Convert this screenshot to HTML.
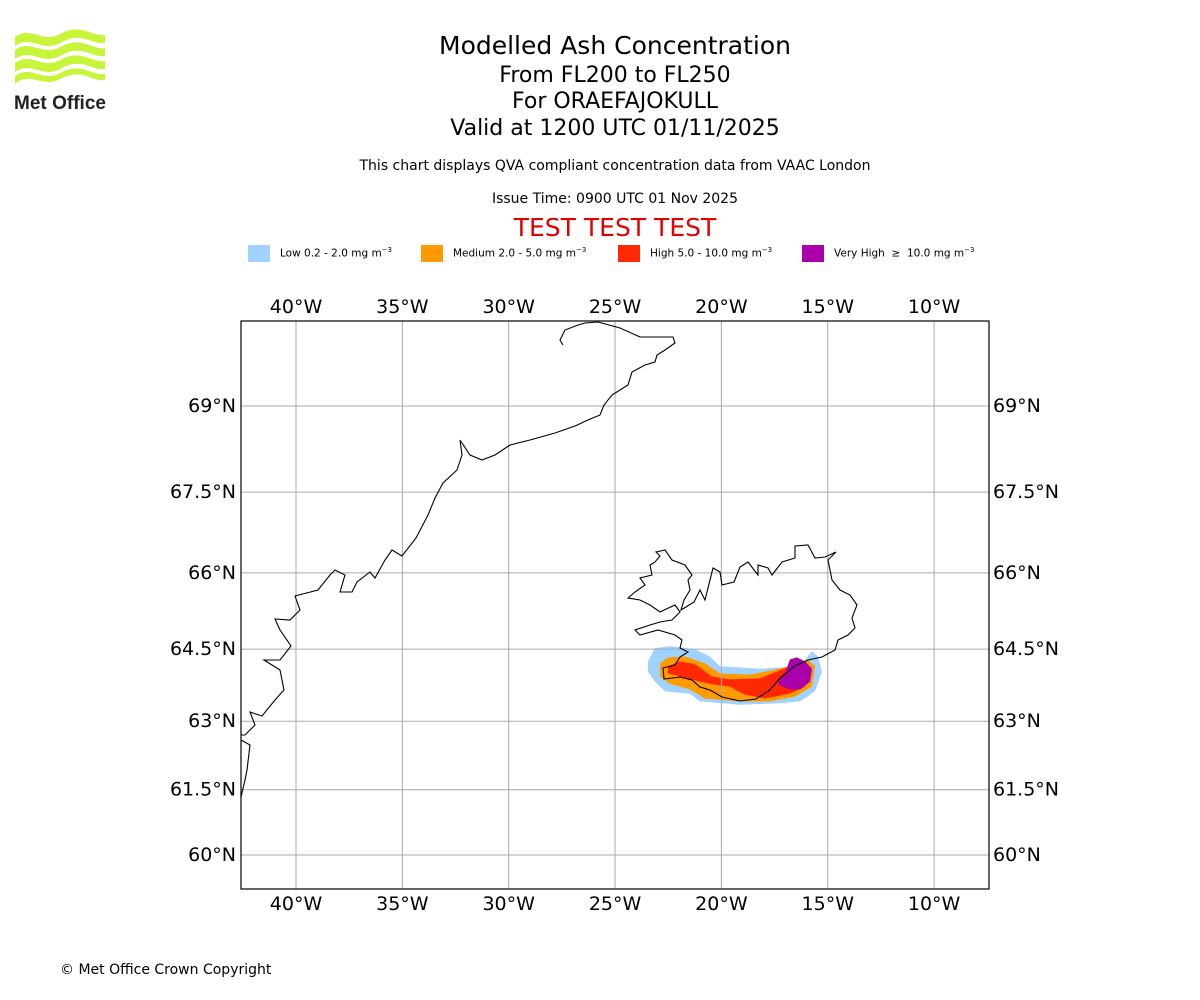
<!DOCTYPE html>
<html><head><meta charset="utf-8">
<style>
body{margin:0;background:#fff;}
#root{position:relative;width:1200px;height:1000px;font-family:"DejaVu Sans","Liberation Sans",sans-serif;color:#000;}
.t{position:absolute;left:15px;width:1200px;text-align:center;white-space:nowrap;}
</style></head><body>
<div id="root">
<svg style="position:absolute;left:12px;top:28px" width="100" height="86" viewBox="0 0 100 86">
<g fill="#c8f53a">
<path d="M3 9 C20 -3,30 17,50 5 C70 -5,80 9,93 7 L93 15 C80 17,70 3,50 14 C30 26,20 6,3 18Z"/>
<path d="M3 22 C20 10,30 30,50 18 C70 8,80 22,93 20 L93 28 C80 30,70 16,50 27 C30 39,20 19,3 31Z"/>
<path d="M3 35 C20 23,30 43,50 31 C70 21,80 35,93 33 L93 41 C80 43,70 29,50 40 C30 52,20 32,3 44Z"/>
<path d="M3 48 C20 36,30 56,50 44 C70 34,80 48,93 46 L93 52 C80 54,70 40,50 50 C30 62,20 42,3 56Z"/>
</g>
<text x="2" y="81" font-family="Liberation Sans,sans-serif" font-weight="bold" font-size="19" fill="#222" textLength="92">Met Office</text>
</svg>
<div class="t" style="top:31px;font-size:25px">Modelled Ash Concentration</div>
<div class="t" style="top:63px;font-size:22px">From FL200 to FL250</div>
<div class="t" style="top:89px;font-size:22px">For ORAEFAJOKULL</div>
<div class="t" style="top:116px;font-size:22px">Valid at 1200 UTC 01/11/2025</div>
<div class="t" style="top:158px;font-size:14px">This chart displays QVA compliant concentration data from VAAC London</div>
<div class="t" style="top:191px;font-size:14px">Issue Time: 0900 UTC 01 Nov 2025</div>
<div class="t" style="top:213px;font-size:25px;color:#e00000">TEST TEST TEST</div>
<div style="position:absolute;top:244px;left:0;width:1200px;height:20px;font-size:10.5px">
 <div><div style="position:absolute;left:248px;top:1px;width:22px;height:17px;background:#a0d2ff"></div><span style="position:absolute;left:280px;top:2px">Low 0.2 - 2.0 mg m<sup style="font-size:7px">−3</sup></span></div>
 <div><div style="position:absolute;left:421px;top:1px;width:22px;height:17px;background:#ff9a00"></div><span style="position:absolute;left:453px;top:2px">Medium 2.0 - 5.0 mg m<sup style="font-size:7px">−3</sup></span></div>
 <div><div style="position:absolute;left:618px;top:1px;width:22px;height:17px;background:#ff2800"></div><span style="position:absolute;left:650px;top:2px">High 5.0 - 10.0 mg m<sup style="font-size:7px">−3</sup></span></div>
 <div><div style="position:absolute;left:802px;top:1px;width:22px;height:17px;background:#aa00aa"></div><span style="position:absolute;left:834px;top:2px">Very High &nbsp;≥ &nbsp;10.0 mg m<sup style="font-size:7px">−3</sup></span></div>
</div>
<svg id="map" style="position:absolute;left:0;top:0" width="1200" height="1000"></svg>
<div style="position:absolute;left:60px;top:962px;font-size:14px">© Met Office Crown Copyright</div>
</div>
<script>
const lonTicks=[-40,-35,-30,-25,-20,-15,-10];
const latTicks=[60,61.5,63,64.5,66,67.5,69];
const lonTickLabels=["40°W","35°W","30°W","25°W","20°W","15°W","10°W"];
const latTickLabels=["60°N","61.5°N","63°N","64.5°N","66°N","67.5°N","69°N"];
const lowLon=[-23.45,-23.12,-22.42,-21.24,-20.54,-20.07,-18.19,-16.30,-15.74,-15.46,-15.27,-15.60,-16.30,-17.25,-19.13,-21.01,-21.48,-22.65,-23.12,-23.45];
const lowLat=[64.25,64.52,64.56,64.5,64.35,64.15,64.10,64.15,64.46,64.35,64.04,63.63,63.42,63.38,63.35,63.42,63.58,63.63,63.83,64.04];
const medLon=[-22.89,-22.51,-21.71,-20.77,-20.07,-18.66,-17.48,-16.30,-15.93,-15.60,-15.74,-16.54,-17.71,-19.13,-20.77,-21.48,-22.42,-22.89];
const medLat=[64.21,64.33,64.35,64.21,64.0,63.98,64.08,64.21,64.29,64.15,63.73,63.52,63.42,63.42,63.48,63.67,63.79,63.94];
const highLon=[-22.51,-21.95,-21.24,-20.44,-19.60,-18.19,-16.78,-16.07,-15.74,-16.07,-16.78,-17.95,-18.89,-19.60,-20.30,-21.01,-21.95,-22.51];
const highLat=[64.15,64.25,64.19,63.94,63.88,63.90,64.15,64.25,64.04,63.73,63.58,63.48,63.56,63.73,63.77,63.83,63.94,64.0];
const vhighLon=[-17.01,-16.78,-16.45,-16.07,-15.74,-15.83,-16.30,-16.78,-17.34,-17.25];
const vhighLat=[64.0,64.29,64.33,64.25,64.10,63.83,63.67,63.67,63.77,63.92];

const NS='http://www.w3.org/2000/svg';
const svg=document.getElementById('map');
const L=241,R=989,T=321,B=889;
function merc(lat){return Math.log(Math.tan(Math.PI/4+lat*Math.PI/360));}
function xs(lon){return 296+(lon+40)*21.27;}
function ys(lat){return 406-(merc(lat)-merc(69))*1218;}
function mk(tag,attrs){const e=document.createElementNS(NS,tag);for(const k in attrs)e.setAttribute(k,attrs[k]);svg.appendChild(e);return e;}
const clip=mk('clipPath',{id:'cp'});
const cr=document.createElementNS(NS,'rect');cr.setAttribute('x',L);cr.setAttribute('y',T);cr.setAttribute('width',R-L);cr.setAttribute('height',B-T);clip.appendChild(cr);
function poly(lons,lats,fill,name){
 const pts=lons.map((v,i)=>xs(v).toFixed(1)+','+ys(lats[i]).toFixed(1)).join(' ');
 const p=mk('polygon',{points:pts,fill:fill,'clip-path':'url(#cp)'});
 
 
}
poly(lowLon,lowLat,'#a0d2ff','ash-low');
poly(medLon,medLat,'#ff9a00','ash-medium');
poly(highLon,highLat,'#ff2800','ash-high');
poly(vhighLon,vhighLat,'#aa00aa','ash-very-high');
lonTicks.forEach((v,i)=>{
 const x=xs(v);
 const g=mk('line',{x1:x,x2:x,y1:T,y2:B,stroke:'#aaa','stroke-width':1});
 
 
 [[T-8],[B+21]].forEach(([y])=>{const t=mk('text',{x:x,y:y,'text-anchor':'middle','font-size':19,'font-family':'DejaVu Sans,sans-serif'});t.textContent=lonTickLabels[i];
 
 });
});
latTicks.forEach((v,i)=>{
 const y=ys(v);
 const g=mk('line',{x1:L,x2:R,y1:y,y2:y,stroke:'#aaa','stroke-width':1});
 
 
 const t1=mk('text',{x:L-5,y:y+6,'text-anchor':'end','font-size':19,'font-family':'DejaVu Sans,sans-serif'});t1.textContent=latTickLabels[i];
 
 
 const t2=mk('text',{x:R+4,y:y+6,'text-anchor':'start','font-size':19,'font-family':'DejaVu Sans,sans-serif'});t2.textContent=latTickLabels[i];
 
 
});
const greenland="563,345 560,340 565,330 578,325 585,323 598,322 620,328 640,337 673,337 675,343 665,350 657,355 655,362 645,365 632,372 628,385 612,395 604,405 600,415 588,420 575,426 555,433 530,440 510,445 495,455 482,460 470,455 460,440 462,455 457,470 443,483 435,498 428,515 416,538 402,556 392,550 385,560 375,578 370,572 357,582 352,592 340,592 345,575 335,570 330,575 318,590 295,596 300,610 290,620 275,619 280,630 291,646 280,660 264,660 280,670 284,690 275,700 262,716 250,712 255,725 245,735 241,735";
const greenland2="241,740 250,745 247,770 245,780 241,797";
const iceland="656,552 665,550 672,560 685,565 692,575 688,580 690,590 684,600 681,610 694,602 700,590 705,600 713,568 720,572 722,585 734,582 740,567 748,562 758,575 758,565 768,568 772,575 782,562 795,558 795,546 808,545 815,558 825,557 836,552 828,560 832,580 840,590 850,595 857,605 852,618 855,628 848,635 838,640 835,650 822,657 808,660 795,666 780,678 770,690 756,699 740,701 722,697 710,690 700,687 692,680 680,677 664,679 663,668 675,665 680,657 688,652 680,648 682,640 675,635 658,630 640,635 635,630 650,625 660,622 672,620 680,612 675,605 660,612 650,605 640,600 628,598 635,592 645,585 640,578 652,575 650,565 655,562 660,556";
[[greenland,'greenland-coastline','polyline'],[greenland2,'greenland-south-coastline','polyline'],[iceland,'iceland-coastline','polygon']].forEach(([pts,n,tag])=>{
 const c=mk(tag,{points:pts,fill:'none',stroke:'#000','stroke-width':1.1,'clip-path':'url(#cp)'});
 
 
});
const fr=mk('rect',{x:L,y:T,width:R-L,height:B-T,fill:'none',stroke:'#000','stroke-width':1.2});


</script>
</body></html>
